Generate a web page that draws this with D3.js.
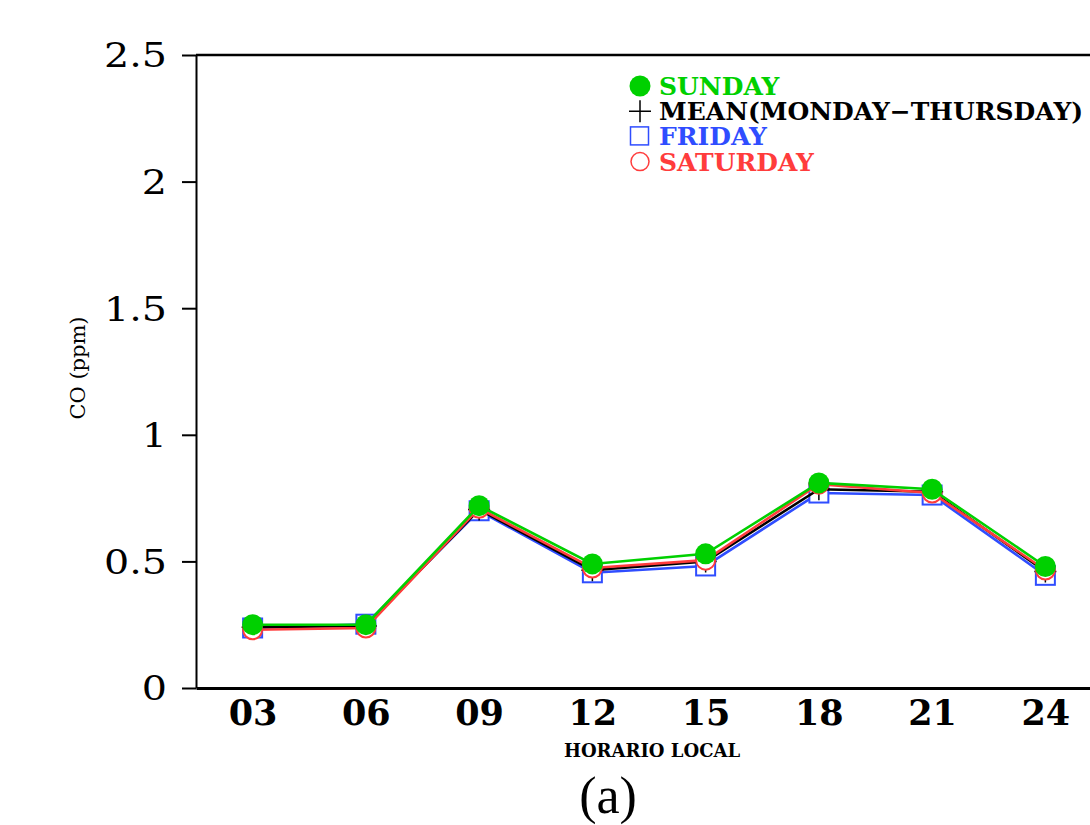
<!DOCTYPE html>
<html>
<head>
<meta charset="utf-8">
<script src="https://cdn.jsdelivr.net/npm/d3@7"></script>
<style>
  body { margin: 0; background: #fff; }
  svg { display: block; }
</style>
</head>
<body>
<div id="chart"></div>
<script>
// hours of day (local time)
var hours = [3, 6, 9, 12, 15, 18, 21, 24];
var hourLabels = ["03", "06", "09", "12", "15", "18", "21", "24"];
var yTicks = [0, 0.5, 1, 1.5, 2, 2.5];

// CO (ppm) per series
var sunday   = [0.250, 0.250, 0.720, 0.490, 0.530, 0.810, 0.785, 0.480];
var meanMonThu = [0.240, 0.245, 0.705, 0.465, 0.500, 0.785, 0.775, 0.460];
var friday   = [0.237, 0.252, 0.700, 0.455, 0.482, 0.770, 0.762, 0.445];
var saturday = [0.230, 0.237, 0.710, 0.474, 0.505, 0.805, 0.770, 0.466];

var seriesNames = ["SUNDAY", "MEAN(MONDAY\u2212THURSDAY)", "FRIDAY", "SATURDAY"];

function draw_chart() {
    var W = 1090, H = 825;
    var left = 196, top = 55, bottom = 688, right = 1102;

    var svg = d3.select("#chart")
        .append("svg")
        .attr("width", W)
        .attr("height", H);

    var x = d3.scaleLinear().domain([1.5, 25.5]).range([left, right]);
    var y = d3.scaleLinear().domain([0, 2.5]).range([bottom, top]);

    // top border
    svg.append("line")
        .attr("x1", left).attr("x2", right)
        .attr("y1", y(2.5)).attr("y2", y(2.5))
        .attr("stroke", "#000").attr("stroke-width", 2.5);

    // y axis
    var sx = 1.2;
    var yAxis = svg.append("g")
        .attr("transform", "translate(" + left + ",0)")
        .call(d3.axisLeft(y).tickValues(yTicks).tickSize(14).tickSizeOuter(0).tickPadding(15)
              .tickFormat(d3.format("")));
    yAxis.select(".domain").attr("stroke-width", 2);
    yAxis.selectAll(".tick line").attr("stroke-width", 2);
    yAxis.selectAll("text")
        .attr("x", -29 / sx)
        .attr("transform", "scale(" + sx + ",1)")
        .attr("dy", "0.36em")
        .style("font-family", "'DejaVu Serif'")
        .style("font-size", "33px")
        .attr("fill", "#000");

    // x axis (no tick marks)
    var xAxis = svg.append("g")
        .attr("transform", "translate(0," + bottom + ")")
        .call(d3.axisBottom(x).tickValues(hours).tickSize(0).tickSizeOuter(0).tickPadding(12)
              .tickFormat(function (d, i) { return hourLabels[i]; }));
    xAxis.select(".domain").attr("stroke-width", 3);
    xAxis.selectAll("text")
        .attr("dy", "0.71em")
        .style("font-family", "'DejaVu Serif'")
        .style("font-weight", "bold")
        .style("font-size", "35px")
        .attr("fill", "#000");

    // axis titles
    svg.append("text")
        .attr("transform", "translate(85,368) rotate(-90)")
        .attr("text-anchor", "middle")
        .style("font-family", "'DejaVu Serif'")
        .style("font-size", "21px")
        .text("CO (ppm)");

    svg.append("text")
        .attr("x", 652).attr("y", 757)
        .attr("text-anchor", "middle")
        .style("font-family", "'DejaVu Serif'")
        .style("font-weight", "bold")
        .style("font-size", "18px")
        .text("HORARIO LOCAL");

    svg.append("text")
        .attr("x", 608).attr("y", 813)
        .attr("text-anchor", "middle")
        .style("font-family", "'Liberation Serif'")
        .style("font-size", "52px")
        .text("(a)");

    var line = d3.line()
        .x(function (d, i) { return x(hours[i]); })
        .y(function (d) { return y(d); });

    var series = [
        { name: seriesNames[2], values: friday,     color: "#2f4dff", marker: "square" },
        { name: seriesNames[1], values: meanMonThu, color: "#000000", marker: "plus" },
        { name: seriesNames[3], values: saturday,   color: "#ff3c3c", marker: "circle" },
        { name: seriesNames[0], values: sunday,     color: "#00d000", marker: "dot" }
    ];

    function drawMarker(g, kind, color, cx, cy) {
        if (kind == "square") {
            g.append("rect")
                .attr("x", cx - 9.5).attr("y", cy - 9.5)
                .attr("width", 19).attr("height", 19)
                .attr("fill", "#fff").attr("stroke", color).attr("stroke-width", 2);
        } else if (kind == "circle") {
            g.append("circle")
                .attr("cx", cx).attr("cy", cy).attr("r", 9.5)
                .attr("fill", "#fff").attr("stroke", color).attr("stroke-width", 2);
        } else if (kind == "dot") {
            g.append("circle")
                .attr("cx", cx).attr("cy", cy).attr("r", 10.5)
                .attr("fill", color);
        } else {
            g.append("path")
                .attr("d", "M" + (cx - 11) + "," + cy + "h22M" + cx + "," + (cy - 11) + "v22")
                .attr("stroke", color).attr("stroke-width", 1.5);
        }
    }

    series.forEach(function (s) {
        var g = svg.append("g");
        g.append("path")
            .datum(s.values)
            .attr("d", line)
            .attr("fill", "none")
            .attr("stroke", s.color)
            .attr("stroke-width", 2.6);
        s.values.forEach(function (v, i) {
            drawMarker(g, s.marker, s.color, x(hours[i]), y(v));
        });
    });

    // legend
    var legend = [
        { name: seriesNames[0], color: "#00d000", marker: "dot", textColor: "#00d000" },
        { name: seriesNames[1], color: "#000000", marker: "plus", textColor: "#000000" },
        { name: seriesNames[2], color: "#2f4dff", marker: "square", textColor: "#2f4dff" },
        { name: seriesNames[3], color: "#ff3c3c", marker: "circle", textColor: "#ff3c3c" }
    ];
    var lg = svg.append("g");
    legend.forEach(function (d, i) {
        var by = 95 + i * 25.2;
        drawMarker(lg, d.marker, d.color, 640, by - 9);
        lg.append("text")
            .attr("x", 659).attr("y", by)
            .style("font-family", "'DejaVu Serif'")
            .style("font-weight", "bold")
            .style("font-size", "25px")
            .attr("fill", d.textColor)
            .text(d.name);
    });
    lg.selectAll("rect").attr("width", 18).attr("height", 18).attr("stroke-width", 1.5);
    lg.selectAll("circle").filter(function () { return d3.select(this).attr("fill") == "#fff"; })
        .attr("r", 9).attr("stroke-width", 1.5);
}

draw_chart();
</script>
</body>
</html>
